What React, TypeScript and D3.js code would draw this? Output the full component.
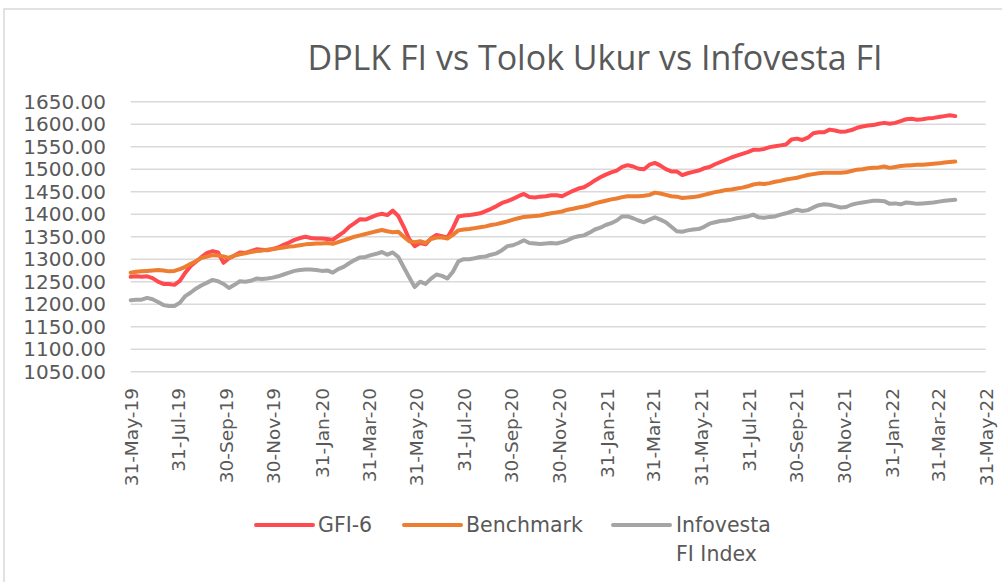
import React from "react";
import * as d3 from "d3";

// weekly readings starting 31-May-19
const START = new Date(2019, 4, 31);

const gfi6 = [
  1261, 1262, 1261, 1262, 1258, 1250, 1245, 1245, 1243, 1252,
  1270, 1285, 1295, 1305, 1314, 1318, 1315, 1292, 1302, 1308,
  1315, 1314, 1318, 1322, 1321, 1320, 1323, 1326, 1332, 1337,
  1343, 1347, 1350, 1347, 1346, 1346, 1345, 1343, 1352, 1360,
  1372, 1380, 1389, 1388, 1393, 1398, 1401, 1398, 1408, 1396,
  1372, 1345, 1329, 1336, 1333, 1346, 1354, 1351, 1348, 1369,
  1395, 1397, 1398, 1400, 1402, 1407, 1412, 1418, 1425, 1429,
  1434, 1440, 1445, 1438, 1437, 1439, 1440, 1442, 1442,
  1440, 1446, 1452, 1457, 1460, 1467, 1475, 1482, 1488, 1493,
  1497, 1505, 1509, 1506, 1501, 1500, 1510, 1514, 1508, 1500,
  1495, 1495, 1487, 1491, 1494, 1497, 1502, 1505, 1511, 1516,
  1521, 1526, 1530, 1534, 1538, 1543, 1543, 1545, 1549,
  1551, 1553, 1555, 1566, 1568, 1565, 1570, 1580, 1582, 1582,
  1588, 1586, 1583, 1584, 1587, 1592, 1595, 1597, 1598, 1601,
  1603, 1601, 1603, 1607, 1611, 1612, 1610, 1611, 1613, 1614,
  1616, 1618, 1620, 1618,
];

const benchmark = [
  1270, 1272, 1273, 1274, 1275, 1276, 1275, 1273, 1274, 1278,
  1283, 1290, 1296, 1303, 1306, 1309, 1308, 1306, 1303, 1308,
  1311, 1313, 1316, 1318, 1319, 1321, 1322, 1324, 1326, 1328,
  1329, 1331, 1333, 1334, 1335, 1335, 1336, 1334, 1338, 1342,
  1346, 1350, 1353, 1356, 1359, 1362, 1365, 1362, 1360, 1361,
  1350, 1340, 1338, 1340, 1336, 1345, 1348, 1348, 1346, 1354,
  1364, 1366, 1367, 1369, 1371, 1373, 1376, 1378, 1381, 1384,
  1388, 1391, 1394, 1395, 1396, 1397, 1400, 1402, 1404,
  1406, 1410, 1412, 1415, 1417, 1420, 1424, 1427, 1430, 1433,
  1435, 1438, 1440, 1440, 1440, 1441, 1443, 1448, 1446, 1443,
  1440, 1439, 1436, 1437, 1438, 1440, 1443, 1446, 1449, 1451,
  1454, 1455, 1457, 1459, 1462, 1466, 1468, 1467, 1469,
  1472, 1474, 1477, 1479, 1481, 1484, 1487, 1489, 1491, 1492,
  1492, 1492, 1492, 1493, 1496, 1499, 1500, 1502, 1503, 1504,
  1506, 1503, 1505, 1507, 1508, 1509, 1510, 1510, 1511, 1512,
  1513, 1515, 1516, 1517,
];

const infovesta = [
  1209, 1210, 1210, 1214, 1211, 1205, 1198, 1196, 1196, 1203,
  1218, 1226, 1235, 1242, 1248, 1254, 1251, 1245, 1236, 1243,
  1251, 1250, 1252, 1257, 1256, 1257, 1259, 1262, 1266, 1270,
  1274, 1276, 1277, 1277, 1276, 1274, 1275, 1270, 1278, 1283,
  1291, 1298, 1304, 1305, 1309, 1312, 1316, 1310, 1315, 1305,
  1282, 1260, 1238, 1250, 1245, 1257, 1266, 1263, 1257, 1272,
  1295, 1300, 1300, 1302, 1305, 1306, 1310, 1313, 1320, 1329,
  1331, 1336, 1342, 1336, 1335, 1334, 1335, 1336, 1335,
  1338, 1342, 1348, 1351, 1353, 1359, 1366, 1370, 1376, 1380,
  1386, 1395, 1395, 1391, 1386, 1382, 1388, 1393, 1388, 1382,
  1372, 1362, 1361, 1364, 1366, 1367, 1372, 1379, 1382, 1385,
  1386, 1388, 1391, 1393, 1395, 1399, 1393, 1392, 1394,
  1395, 1399, 1402, 1406, 1410, 1407, 1409, 1415, 1420, 1422,
  1421, 1418, 1415, 1416, 1421, 1424, 1426, 1428, 1430, 1430,
  1429, 1423, 1424, 1422, 1426, 1425, 1423, 1424, 1425, 1426,
  1428, 1430, 1431, 1432,
];

const tickDates = [
  "2019-05-31", "2019-07-31", "2019-09-30", "2019-11-30", "2020-01-31",
  "2020-03-31", "2020-05-31", "2020-07-31", "2020-09-30", "2020-11-30",
  "2021-01-31", "2021-03-31", "2021-05-31", "2021-07-31", "2021-09-30",
  "2021-11-30", "2022-01-31", "2022-03-31", "2022-05-31",
];

const yTicks = [1050, 1100, 1150, 1200, 1250, 1300, 1350, 1400, 1450, 1500, 1550, 1600, 1650];

const seriesNames = ["GFI-6", "Benchmark", "Infovesta FI Index"];
const seriesColors = ["#ff4b4f", "#ed7d31", "#a5a5a5"];

const W = 1002;
const H = 582;
const TEXT = "#595959";
const FONT = "'DejaVu Sans', sans-serif";

export default function App() {
  const parse = d3.timeParse("%Y-%m-%d");
  const fmt = d3.timeFormat("%-d-%b-%y");
  const ticks = tickDates.map((s) => parse(s)!);

  const x = d3
    .scaleTime()
    .domain([ticks[0], ticks[ticks.length - 1]])
    .range([130.7, 985.7]);
  const y = d3.scaleLinear().domain([1050, 1650]).range([371.7, 101.7]);

  const dates = gfi6.map((_, i) => d3.timeDay.offset(START, i * 7));
  const all = [gfi6, benchmark, infovesta];

  const line = d3
    .line<number>()
    .x((_, i) => x(dates[i]))
    .y((d) => y(d));

  const legend = [
    { lx: 256, tx: 318 },
    { lx: 404, tx: 466 },
    { lx: 613, tx: 676 },
  ];

  return (
    <svg
      width={W}
      height={H}
      style={{ position: "absolute", left: 0, top: 0, background: "#fff" }}
      fontFamily={FONT}
    >
      <rect x={4} y={9} width={W + 20} height={H + 20} fill="#fff" stroke="#d9d9d9" strokeWidth={1.5} />

      <text x={595} y={70} textAnchor="middle" fill={TEXT} fontSize={34} fontFamily="'Open Sans', sans-serif">
        DPLK FI vs Tolok Ukur vs Infovesta FI
      </text>

      {yTicks.map((t) => (
        <g key={t}>
          <line x1={x.range()[0]} x2={x.range()[1]} y1={y(t)} y2={y(t)} stroke="#d9d9d9" strokeWidth={1.5} />
          <text x={106} y={y(t)} dy="0.36em" textAnchor="end" fill={TEXT} fontSize={20}>
            {t.toFixed(2)}
          </text>
        </g>
      ))}

      {ticks.map((d, i) => (
        <text
          key={i}
          transform={`translate(${x(d) + 7},388) rotate(-90)`}
          textAnchor="end"
          fill={TEXT}
          fontSize={18.5}
        >
          {fmt(d)}
        </text>
      ))}

      {all.map((s, k) => (
        <path
          key={k}
          d={line(s) ?? ""}
          fill="none"
          stroke={seriesColors[k]}
          strokeWidth={4}
          strokeLinejoin="round"
          strokeLinecap="round"
        />
      ))}

      {legend.map((p, k) => (
        <g key={k}>
          <line x1={p.lx} x2={p.lx + 57} y1={525} y2={525} stroke={seriesColors[k]} strokeWidth={4} strokeLinecap="round" />
          {k < 2 ? (
            <text x={p.tx} y={532} fill={TEXT} fontSize={20.5}>
              {seriesNames[k]}
            </text>
          ) : (
            <text x={p.tx} y={532} fill={TEXT} fontSize={20.5}>
              <tspan x={p.tx}>Infovesta</tspan>
              <tspan x={p.tx} dy={29}>FI Index</tspan>
            </text>
          )}
        </g>
      ))}
    </svg>
  );
}
